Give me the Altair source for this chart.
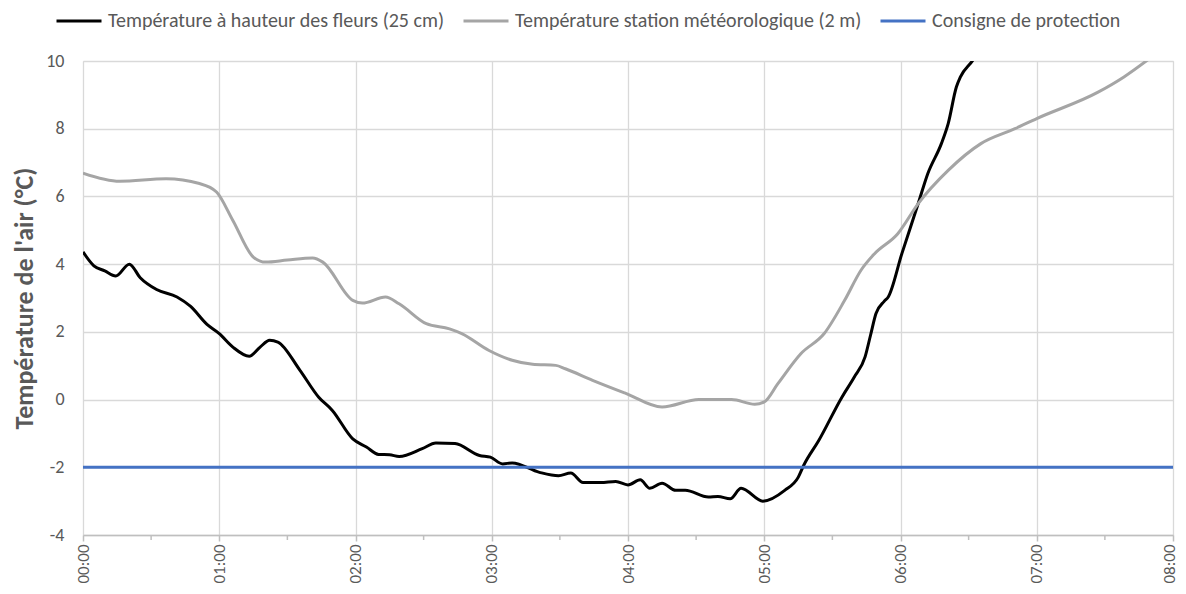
import altair as alt
import pandas as pd

# Black series: temperature at flower height (25 cm); time in hours after 00:00
fleurs_t = [0.00, 0.08, 0.16, 0.24, 0.34, 0.42, 0.54, 0.69, 0.79, 0.91, 1.00, 1.10, 1.22, 1.30,
            1.37, 1.43, 1.59, 1.73, 1.83, 1.98, 2.08, 2.17, 2.25, 2.32, 2.49, 2.59, 2.73, 2.91,
            2.99, 3.08, 3.15, 3.35, 3.49, 3.58, 3.67, 3.80, 3.91, 4.00, 4.09, 4.16, 4.25, 4.35,
            4.42, 4.59, 4.66, 4.75, 4.83, 4.99, 5.15, 5.25, 5.29, 5.40, 5.57, 5.66, 5.74, 5.78,
            5.82, 5.88, 5.91, 6.01, 6.13, 6.20, 6.30, 6.35, 6.41, 6.44, 6.53, 6.60]
fleurs_v = [4.36, 3.95, 3.80, 3.65, 4.00, 3.60, 3.25, 3.03, 2.75, 2.22, 1.95, 1.55, 1.28, 1.55,
            1.75, 1.70, 0.88, 0.07, -0.32, -1.16, -1.40, -1.62, -1.63, -1.68, -1.45, -1.28, -1.30, -1.65,
            -1.70, -1.90, -1.87, -2.15, -2.25, -2.17, -2.45, -2.45, -2.42, -2.52, -2.37, -2.62, -2.47, -2.68,
            -2.68, -2.88, -2.86, -2.93, -2.62, -3.00, -2.68, -2.29, -1.94, -1.21, 0.07, 0.66, 1.26, 1.90,
            2.54, 2.90, 3.03, 4.31, 5.79, 6.67, 7.56, 8.15, 9.23, 9.53, 10.02, 10.50]

# Grey series: weather-station temperature (2 m)
station_t = [0.00, 0.27, 0.61, 0.855, 0.98, 1.10, 1.25, 1.34, 1.50, 1.685, 1.76, 1.98, 2.05,
             2.22, 2.32, 2.52, 2.69, 2.78, 2.98, 3.15, 3.30, 3.47, 3.54, 3.74, 3.98, 4.25, 4.52,
             4.76, 4.93, 5.00, 5.10, 5.27, 5.44, 5.59, 5.71, 5.81, 5.98, 6.13, 6.35, 6.59, 6.84,
             7.00, 7.45, 7.64, 7.81, 7.90]
station_v = [6.69, 6.45, 6.52, 6.38, 6.13, 5.29, 4.21, 4.06, 4.12, 4.18, 4.06, 2.93, 2.85,
             3.03, 2.83, 2.24, 2.09, 1.95, 1.45, 1.16, 1.04, 1.01, 0.91, 0.57, 0.19, -0.22, 0.00,
             0.00, -0.14, -0.07, 0.47, 1.36, 1.95, 2.93, 3.82, 4.31, 4.90, 5.79, 6.77, 7.56, 8.00,
             8.30, 9.08, 9.53, 10.02, 10.30]

# Protection threshold
consigne_t = [0.0, 8.0]
consigne_v = [-2.0, -2.0]

series_names = ["Température à hauteur des fleurs (25 cm)",
                "Température station météorologique (2 m)",
                "Consigne de protection"]
series_colors = ["#000000", "#a5a5a5", "#4472c4"]

hour_ticks = [0, 1, 2, 3, 4, 5, 6, 7, 8]
half_ticks = [0.5, 1.5, 2.5, 3.5, 4.5, 5.5, 6.5, 7.5]
y_ticks = [-4, -2, 0, 2, 4, 6, 8, 10]

rows = []
for name, ts, vs in zip(series_names,
                        [fleurs_t, station_t, consigne_t],
                        [fleurs_v, station_v, consigne_v]):
    for t, v in zip(ts, vs):
        rows.append({"serie": name, "t": t, "v": v})
df = pd.DataFrame(rows)
df["ordre"] = df["serie"].map({n: i for i, n in enumerate(series_names)})

FONT = "Carlito, Liberation Sans, Arial, sans-serif"
W, H = 1090, 474

x_scale = alt.Scale(domain=[0, 8], nice=False, zero=False)
y_scale = alt.Scale(domain=[-4, 10], nice=False, zero=False)

lines = alt.Chart(df).mark_line(interpolate="monotone", clip=True, strokeWidth=3).encode(
    x=alt.X("t:Q", scale=x_scale,
            axis=alt.Axis(values=hour_ticks, title=None, labelAngle=-90,
                          labelAlign="right", labelBaseline="middle",
                          labelExpr="(datum.value < 10 ? '0' : '') + datum.value + ':00'",
                          labelFontSize=17, labelColor="#595959", labelFont=FONT,
                          labelPadding=3, labelFlush=False, labelOverlap=False,
                          labelOffset={"condition": {"test": "datum.value == 8", "value": -4},
                                       "value": 0},
                          domainColor="#bfbfbf", domainWidth=1.5,
                          tickColor="#bfbfbf", tickSize=6, tickWidth=1.5,
                          grid=True, gridColor="#d9d9d9", gridWidth=1.3)),
    y=alt.Y("v:Q", scale=y_scale,
            axis=alt.Axis(values=y_ticks, title="Température de l'air (°C)",
                          labelExpr="'' + datum.value",
                          labelFontSize=18, labelColor="#595959", labelFont=FONT,
                          labelPadding=19, domain=False, ticks=False,
                          titleFont=FONT, titleFontSize=26, titleFontWeight="bold",
                          titleColor="#595959", titlePadding=8,
                          grid=True, gridColor="#d9d9d9", gridWidth=1.3)),
    color=alt.Color("serie:N",
                    scale=alt.Scale(domain=series_names, range=series_colors),
                    legend=alt.Legend(title=None, orient="none", direction="horizontal",
                                      legendX=-28, legendY=-64,
                                      symbolType="stroke", symbolSize=2025,
                                      symbolStrokeWidth=3,
                                      labelFont=FONT, labelFontSize=20, labelLimit=0,
                                      labelColor="#595959", labelOffset=5,
                                      columnPadding=12, padding=0)),
    order=alt.Order("ordre:Q"),
)

minor = alt.Chart(pd.DataFrame({"t": half_ticks})).mark_rule(
    color="#bfbfbf", strokeWidth=1.5).encode(
    x=alt.X("t:Q", scale=x_scale),
    y=alt.value(H),
    y2=alt.value(H + 5),
)

chart = alt.layer(lines, minor).properties(
    width=W, height=H,
    autosize=alt.AutoSizeParams(type="none"),
    padding={"left": 75, "top": 53, "right": 5, "bottom": 50},
).configure_view(stroke=None).configure(background="white")

chart.save("out.html", embed_options={"renderer": "svg", "actions": False})
